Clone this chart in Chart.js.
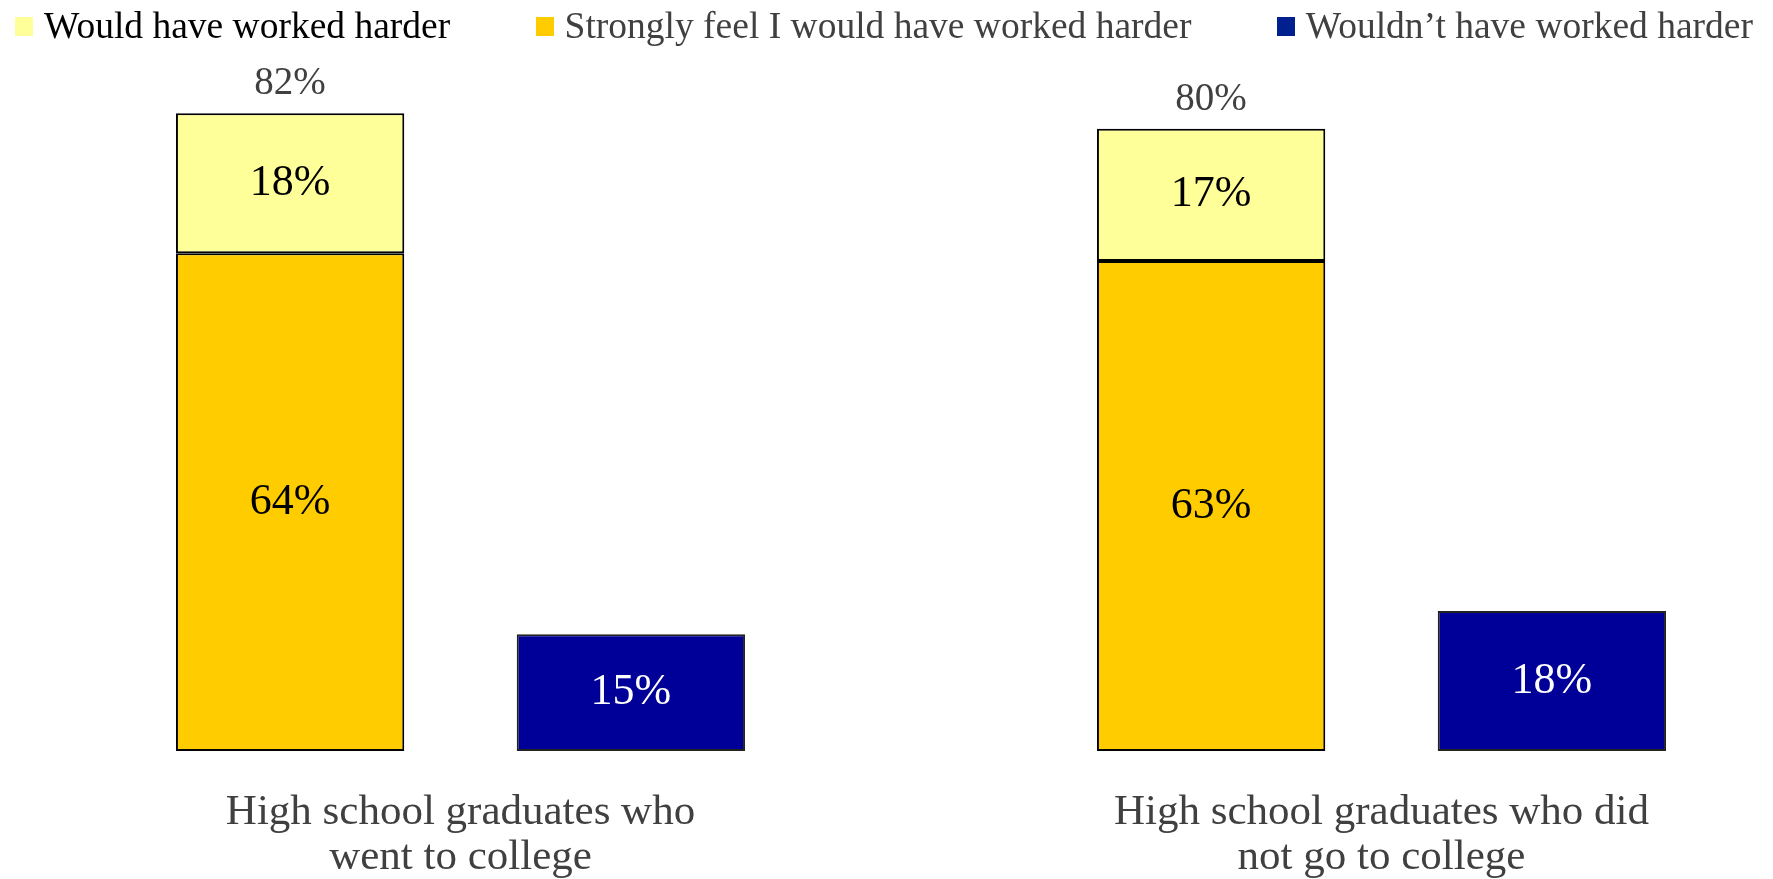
<!DOCTYPE html>
<html>
<head>
<meta charset="utf-8">
<script src="https://cdn.jsdelivr.net/npm/chart.js@4/dist/chart.umd.min.js"></script>
<style>
    html, body { margin: 0; background: #fff; overflow: hidden; width: 1773px; height: 879px; }
    /* canvas is a bit wider than the window so the second group lands where the slide has it */
    #wrap { position: relative; width: 1842px; height: 879px; }
    #legend {
        position: absolute; top: 0; left: 0; width: 1773px; box-sizing: border-box;
        padding: 4px 20px 0 15px; display: flex; justify-content: space-between;
        font-family: 'Liberation Serif', 'Times New Roman', serif; font-size: 37.5px; line-height: 44px;
    }
    #legend span.box { display: inline-block; width: 18px; height: 19px; margin-right: 11px; vertical-align: 2px; }
</style>
</head>
<body>
<div id="wrap">
    <canvas id="workChart"></canvas>
    <div id="legend"></div>
</div>
<script>
// Categories (two-line labels)
const categories = [
    ['High school graduates who', 'went to college'],
    ['High school graduates who did', 'not go to college']
];

// Series values (%)
const wouldHarder = [18, 17];
const stronglyHarder = [64, 63];
const wouldntHarder = [15, 18];

const seriesNames = ['Would have worked harder', 'Strongly feel I would have worked harder', 'Wouldn\u2019t have worked harder'];
const seriesColors = ['#FFFF99', '#FFCC00', '#000099'];
const legendTextColors = ['#000000', '#404040', '#404040'];

// Legend (drawn as html so the spacing follows the original slide)
const legendEl = document.getElementById('legend');
seriesNames.forEach((name, i) => {
    const item = document.createElement('div');
    item.style.color = legendTextColors[i];
    item.innerHTML = '<span class="box" style="background:' + (i === 2 ? '#002090' : seriesColors[i]) + '"></span>' + name;
    legendEl.appendChild(item);
});

// Value labels inside bars + totals above the stacked bar
const barLabelsPlugin = {
    id: 'barLabels',
    afterDatasetsDraw(chart) {
        const { ctx } = chart;
        ctx.save();
        ctx.textAlign = 'center';
        ctx.textBaseline = 'middle';
        chart.data.datasets.forEach((dataset, i) => {
            const meta = chart.getDatasetMeta(i);
            meta.data.forEach((element, index) => {
                const centerY = (element.y + element.base) / 2;
                ctx.font = '44px "Liberation Serif"';
                ctx.fillStyle = dataset.stack === 'no' ? '#ffffff' : '#000000';
                ctx.fillText(dataset.data[index] + '%', element.x, centerY);
            });
        });
        // totals
        const topMeta = chart.getDatasetMeta(1);
        topMeta.data.forEach((element, index) => {
            const total = wouldHarder[index] + stronglyHarder[index];
            ctx.font = '39px "Liberation Serif"';
            ctx.fillStyle = '#404040';
            ctx.fillText(total + '%', element.x, element.y - 29);
        });
        ctx.restore();
    }
};

const ctx = document.getElementById('workChart').getContext('2d');
new Chart(ctx, {
    type: 'bar',
    data: {
        labels: categories,
        datasets: [
            {
                label: seriesNames[1],
                data: stronglyHarder,
                stack: 'yes',
                backgroundColor: seriesColors[1],
                borderColor: '#000',
                borderWidth: 2,
                borderSkipped: false
            },
            {
                label: seriesNames[0],
                data: wouldHarder,
                stack: 'yes',
                backgroundColor: seriesColors[0],
                borderColor: '#000',
                borderWidth: 2,
                borderSkipped: false
            },
            {
                label: seriesNames[2],
                data: wouldntHarder,
                stack: 'no',
                backgroundColor: seriesColors[2],
                borderColor: '#222',
                borderWidth: 2,
                borderSkipped: false
            }
        ]
    },
    options: {
        responsive: true,
        maintainAspectRatio: false,
        animation: false,
        devicePixelRatio: 1,
        categoryPercentage: 0.74,
        barPercentage: 0.67,
        layout: {
            padding: { top: 51, right: 0, left: 0, bottom: 0 }
        },
        plugins: {
            legend: { display: false },
            tooltip: { enabled: false }
        },
        scales: {
            x: {
                stacked: true,
                grid: { display: false, drawTicks: false },
                border: { display: false },
                ticks: {
                    color: '#404040',
                    padding: 39,
                    font: { family: 'Liberation Serif', size: 43, lineHeight: 1.05 },
                    maxRotation: 0,
                    autoSkip: false
                },
                afterFit: (scale) => { scale.height = 128; }
            },
            y: {
                stacked: true,
                display: false,
                min: 0,
                max: 90
            }
        }
    },
    plugins: [barLabelsPlugin]
});
</script>
</body>
</html>
